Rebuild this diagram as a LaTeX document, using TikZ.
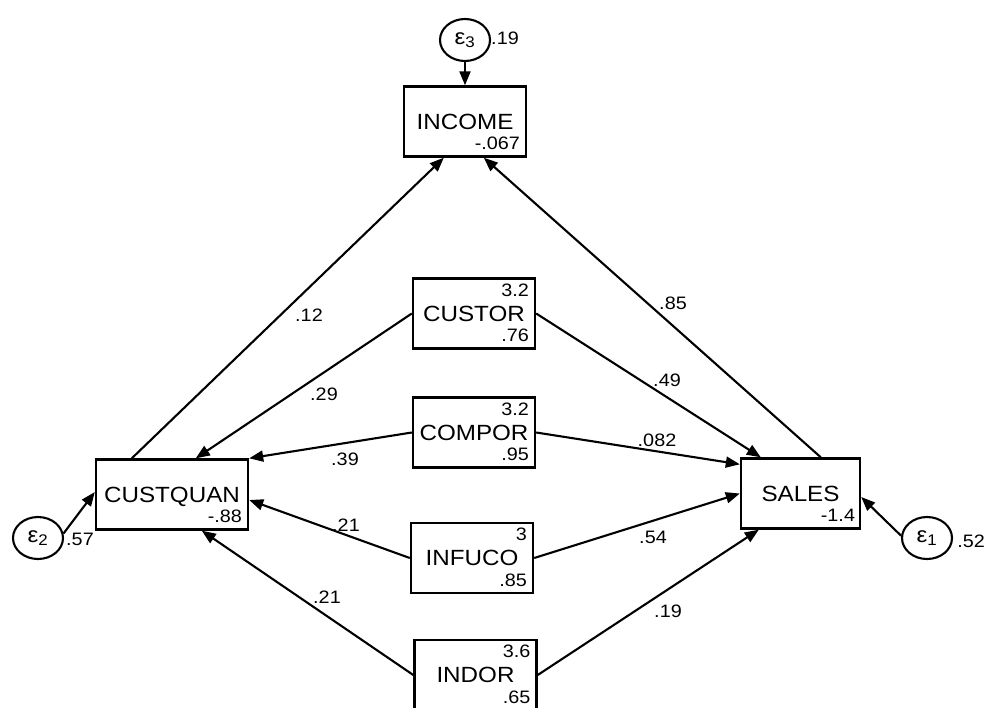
\documentclass[tikz,border=0pt]{standalone}
\usepackage{fontspec}
\setmainfont{Liberation Sans}[FakeStretch=1.1]
\usetikzlibrary{arrows.meta,shapes.geometric}
\begin{document}
\begin{tikzpicture}[x=1pt,y=-1pt,
  var/.style={draw, line width=2.4pt, rectangle, minimum width=122pt, minimum height=70pt,
    inner sep=0pt, text depth=0pt, font=\fontsize{22}{26}\selectfont},
  err/.style={draw, line width=2.1pt, ellipse, minimum width=50pt, minimum height=42pt,
    inner sep=0pt, font=\fontsize{22}{26}\selectfont},
  num/.style={inner sep=0pt, font=\fontsize{18}{21}\selectfont},
  numbr/.style={num, anchor=base east},
  conn/.style={draw, line width=2.1pt, -{Triangle[length=14pt,width=11pt]}},
]
\useasboundingbox (0,0) rectangle (984,707);

% observed variables
\node[var] (income) at (465,121.5) {INCOME};
\node[var] (custor) at (474,313.5) {CUSTOR};
\node[var] (compor) at (474,432.5) {COMPOR};
\node[var] (infuco) at (472,558) {INFUCO};
\node[var] (indor) at (475.5,675) {INDOR};
\node[var, minimum width=152pt] (custquan) at (172,494.5) {CUSTQUAN};
\node[var, minimum width=119pt] (sales) at (800.5,493.5) {SALES};

% numbers inside boxes
\node[numbr] (income-c) at ([xshift=-7pt,yshift=8pt]income.south east) {-.067};
\node[numbr] (custor-m) at ([xshift=-7pt,yshift=-19pt]custor.north east) {3.2};
\node[numbr] (custor-v) at ([xshift=-7pt,yshift=8pt]custor.south east) {.76};
\node[numbr] (compor-m) at ([xshift=-7pt,yshift=-19pt]compor.north east) {3.2};
\node[numbr] (compor-v) at ([xshift=-7pt,yshift=8pt]compor.south east) {.95};
\node[numbr] (infuco-m) at ([xshift=-7pt,yshift=-19pt]infuco.north east) {3};
\node[numbr] (infuco-v) at ([xshift=-7pt,yshift=8pt]infuco.south east) {.85};
\node[numbr] (indor-m) at ([xshift=-7pt,yshift=-19pt]indor.north east) {3.6};
\node[numbr] (indor-v) at ([xshift=-7pt,yshift=8pt]indor.south east) {.65};
\node[numbr] (custquan-c) at ([xshift=-7pt,yshift=8pt]custquan.south east) {-.88};
\node[numbr] (sales-c) at ([xshift=-6pt,yshift=8pt]sales.south east) {-1.4};

% error terms
\node[err] (e3) at (465,40) {ε\textsubscript{3}};
\node[err] (e2) at (38,538) {ε\textsubscript{2}};
\node[err] (e1) at (927,538) {ε\textsubscript{1}};
\node[num] (e3v) at (505,38) {.19};
\node[num] (e2v) at (80,539) {.57};
\node[num] (e1v) at (971,541) {.52};

% connectors
\draw[conn] (e3.south) -- (income.north);
\draw[conn] (e2.10) -- ([yshift=2.5pt]custquan.west);
\draw[conn] (e1.175) -- ([yshift=-3.5pt]sales.east);
\draw[conn] ([xshift=37pt]custquan.north west) -- ([xshift=41pt]income.south west);
\draw[conn] ([xshift=81pt]sales.north west) -- ([xshift=81pt]income.south west);
\draw[conn] (custor.west) -- ([xshift=101pt]custquan.north west);
\draw[conn] (custor.east) -- ([xshift=21pt]sales.north west);
\draw[conn] (compor.west) -- (custquan.north east);
\draw[conn] (compor.east) -- ([yshift=-7pt]sales.north west);
\draw[conn] (infuco.west) -- ([yshift=-5.5pt]custquan.east);
\draw[conn] (infuco.east) -- (sales.west);
\draw[conn] (indor.west) -- ([xshift=107pt]custquan.south west);
\draw[conn] (indor.east) -- ([xshift=19pt]sales.south west);

% path coefficients
\node[num] (l-ci) at (309,315) {.12};
\node[num] (l-si) at (673,303) {.85};
\node[num] (l-cc) at (324,394) {.29};
\node[num] (l-cs) at (667,380) {.49};
\node[num] (l-pc) at (345,459) {.39};
\node[num] (l-ps) at (657,440) {.082};
\node[num] (l-fc) at (346,525) {.21};
\node[num] (l-fs) at (653,537) {.54};
\node[num] (l-dc) at (327,597) {.21};
\node[num] (l-ds) at (668,611) {.19};
\end{tikzpicture}
\end{document}
